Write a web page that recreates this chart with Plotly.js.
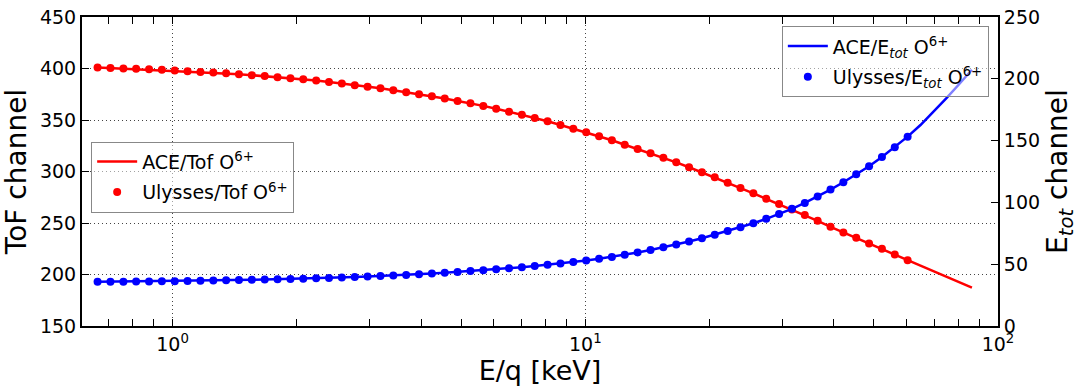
<!DOCTYPE html>
<html>
<head>
<meta charset="utf-8">
<script src="https://cdn.plot.ly/plotly-3.0.1.min.js"></script>
<style>
  html, body { margin: 0; padding: 0; background: #fff; }
  #chart { width: 1086px; height: 390px; }
</style>
</head>
<body>
<div id="chart"></div>
<script>
// E/q steps [keV] (log-spaced instrument steps)
const eqSteps = [
  0.658, 0.707, 0.760, 0.816, 0.877, 0.942, 1.012, 1.087, 1.168, 1.255,
  1.348, 1.448, 1.556, 1.672, 1.796, 1.930, 2.073, 2.228, 2.393, 2.571,
  2.763, 2.968, 3.189, 3.426, 3.681, 3.955, 4.249, 4.565, 4.904, 5.269,
  5.661, 6.082, 6.534, 7.020, 7.542, 8.103, 8.706, 9.353, 10.05, 10.80,
  11.60, 12.46, 13.39, 14.39, 15.46, 16.61, 17.84, 19.17, 20.59, 22.13,
  23.77, 25.54, 27.44, 29.48, 31.67, 34.03, 36.56, 39.28, 42.20, 45.34,
  48.71, 52.33, 56.22, 60.40, 64.89, 69.72, 74.91, 80.48, 86.46
];

// Ulysses ToF channel (left axis), 64 steps
const ulyssesTof = [
  401.0, 400.4, 400.0, 399.7, 399.3, 398.7, 398.0, 397.4, 396.7, 396.0,
  395.4, 394.5, 393.5, 392.6, 391.6, 390.6, 389.6, 388.3, 386.8, 385.5,
  383.8, 382.4, 380.9, 378.9, 377.0, 375.1, 373.1, 370.8, 368.5, 366.3,
  363.7, 361.0, 358.1, 355.2, 352.0, 348.8, 345.2, 341.6, 338.1, 334.3,
  330.3, 326.0, 321.9, 317.7, 313.4, 308.9, 304.1, 299.2, 294.3, 289.1,
  283.9, 278.8, 273.5, 268.4, 263.1, 257.7, 252.1, 246.3, 240.8, 235.6,
  230.1, 224.9, 219.4, 213.9
];

// ACE ToF channel (left axis), 69 steps
const aceTof = [
  401.0, 400.4, 400.0, 399.7, 399.3, 398.7, 398.0, 397.4, 396.7, 396.0,
  395.4, 394.5, 393.5, 392.6, 391.6, 390.6, 389.6, 388.3, 386.8, 385.5,
  383.8, 382.4, 380.9, 378.9, 377.0, 375.1, 373.1, 370.8, 368.5, 366.3,
  363.7, 361.0, 358.1, 355.2, 352.0, 348.8, 345.2, 341.6, 338.1, 334.3,
  330.3, 326.0, 321.9, 317.7, 313.4, 308.9, 304.1, 299.2, 294.3, 289.1,
  283.9, 278.8, 273.5, 268.4, 263.1, 257.7, 252.1, 246.3, 240.8, 235.6,
  230.1, 224.9, 219.4, 213.9, 208.6, 203.3, 198.0, 192.6, 187.3
];

// Ulysses E_tot channel (right axis), 64 steps
const ulyssesEtot = [
  35.7, 35.8, 35.9, 36.0, 36.1, 36.2, 36.3, 36.5, 36.6, 36.8,
  37.0, 37.2, 37.4, 37.6, 37.8, 38.0, 38.3, 38.6, 38.9, 39.2,
  39.6, 40.0, 40.4, 40.8, 41.3, 41.8, 42.4, 43.0, 43.7, 44.4,
  45.2, 46.0, 46.8, 47.6, 48.5, 49.5, 50.6, 51.7, 53.0, 54.4,
  55.9, 57.6, 59.5, 61.5, 63.7, 66.0, 68.3, 71.0, 73.9, 76.8,
  79.8, 83.1, 86.7, 90.6, 94.8, 99.6, 104.8, 110.4, 116.3, 122.7,
  129.3, 136.8, 144.7, 153.2
];

// ACE E_tot channel (right axis), 69 steps
const aceEtot = [
  35.7, 35.8, 35.9, 36.0, 36.1, 36.2, 36.3, 36.5, 36.6, 36.8,
  37.0, 37.2, 37.4, 37.6, 37.8, 38.0, 38.3, 38.6, 38.9, 39.2,
  39.6, 40.0, 40.4, 40.8, 41.3, 41.8, 42.4, 43.0, 43.7, 44.4,
  45.2, 46.0, 46.8, 47.6, 48.5, 49.5, 50.6, 51.7, 53.0, 54.4,
  55.9, 57.6, 59.5, 61.5, 63.7, 66.0, 68.3, 71.0, 73.9, 76.8,
  79.8, 83.1, 86.7, 90.6, 94.8, 99.6, 104.8, 110.4, 116.3, 122.7,
  129.3, 136.8, 144.7, 153.2, 162.6, 173.0, 184.1, 195.6, 207.3
];

const xTickVals = [1, 10, 100];
const xTickText = ['10<sup>0</sup>', '10<sup>1</sup>', '10<sup>2</sup>'];
const xMinorTicks = [0.7, 0.8, 0.9, 2, 3, 4, 5, 6, 7, 8, 9, 20, 30, 40, 50, 60, 70, 80, 90];

const names = {
  aceTof: 'ACE/Tof O<sup>6+</sup>',
  ulyTof: 'Ulysses/Tof O<sup>6+</sup>',
  aceEtot: 'ACE/E<sub><i>tot</i></sub> O<sup>6+</sup>',
  ulyEtot: 'Ulysses/E<sub><i>tot</i></sub> O<sup>6+</sup>'
};

const ulyssesEq = eqSteps.slice(0, ulyssesTof.length);
const FONT = 'DejaVu Sans, sans-serif';

const traces = [
  { x: eqSteps, y: aceTof, name: names.aceTof, mode: 'lines', yaxis: 'y',
    line: { color: '#ff0000', width: 2.5 }, legend: 'legend', legendgroup: 'a' },
  { x: ulyssesEq, y: ulyssesTof, name: names.ulyTof, mode: 'markers', yaxis: 'y',
    marker: { color: '#ff0000', size: 8 }, legend: 'legend', legendgroup: 'b' },
  { x: eqSteps, y: aceEtot, name: names.aceEtot, mode: 'lines', yaxis: 'y2',
    line: { color: '#0000ff', width: 2.5 }, legend: 'legend2', legendgroup: 'c' },
  { x: ulyssesEq, y: ulyssesEtot, name: names.ulyEtot, mode: 'markers', yaxis: 'y2',
    marker: { color: '#0000ff', size: 8 }, legend: 'legend2', legendgroup: 'd' }
];

const gridStyle = { showgrid: true, gridcolor: '#444', gridwidth: 1, griddash: '1px,3px' };

const legendBase = {
  bgcolor: 'rgba(255,255,255,0.5)', bordercolor: '#888', borderwidth: 1,
  font: { size: 19, family: FONT }, itemwidth: 40,
  traceorder: 'grouped', tracegroupgap: 3
};

const layout = {
  width: 1086, height: 390,
  margin: { l: 82, r: 88, t: 17, b: 64 },
  paper_bgcolor: '#fff', plot_bgcolor: '#fff',
  font: { family: FONT, color: '#000', size: 18 },
  showlegend: true,
  xaxis: Object.assign({
    type: 'log', range: [-0.2195, 2],
    tickvals: xTickVals, ticktext: xTickText,
    ticks: 'inside', ticklen: 7, tickwidth: 1, tickcolor: '#000',
    showline: true, linecolor: '#000', linewidth: 2, mirror: 'allticks',
    zeroline: false,
    tickfont: { size: 19, family: FONT },
    minor: { tickvals: xMinorTicks, ticks: 'inside', ticklen: 4, tickwidth: 1, tickcolor: '#000', showgrid: false },
    title: { text: 'E/q [keV]', font: { size: 27, family: FONT }, standoff: 6 }
  }, gridStyle),
  yaxis: Object.assign({
    range: [150, 450], tick0: 150, dtick: 50,
    ticks: 'inside', ticklen: 7, tickwidth: 1, tickcolor: '#000',
    showline: true, linecolor: '#000', linewidth: 2, mirror: false,
    zeroline: false,
    tickfont: { size: 19, family: FONT },
    title: { text: 'ToF channel', font: { size: 28, family: FONT }, standoff: 8 }
  }, gridStyle),
  yaxis2: {
    overlaying: 'y', side: 'right',
    range: [0, 250], tick0: 0, dtick: 50,
    ticks: 'inside', ticklen: 7, tickwidth: 1, tickcolor: '#000',
    showline: true, linecolor: '#000', linewidth: 2,
    showgrid: false, zeroline: false,
    tickfont: { size: 19, family: FONT },
    title: { text: 'E<sub><i>tot</i></sub> channel', font: { size: 28, family: FONT }, standoff: 8 }
  },
  legend: Object.assign({ x: 0.010, y: 0.597, xanchor: 'left', yanchor: 'top' }, legendBase),
  legend2: Object.assign({ x: 0.99, y: 0.97, xanchor: 'right', yanchor: 'top' }, legendBase)
};

Plotly.newPlot('chart', traces, layout, { displayModeBar: false, staticPlot: true });
</script>
</body>
</html>
